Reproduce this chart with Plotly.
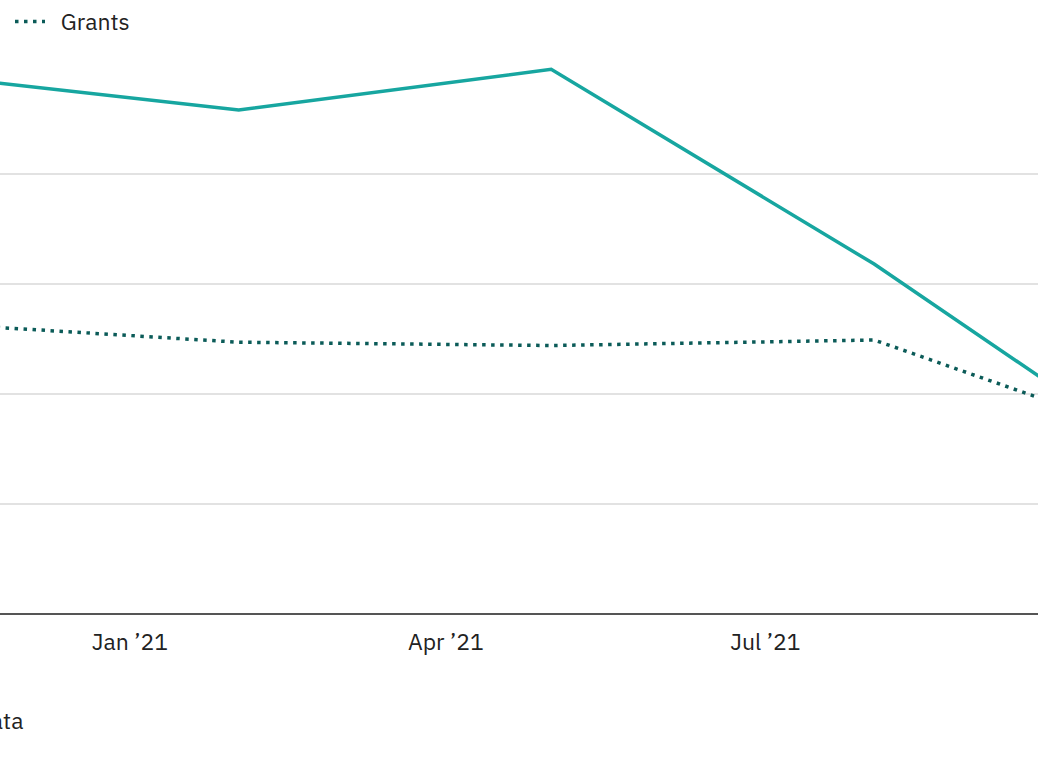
import plotly.graph_objects as go

dates = ["2020-11-01", "2021-02-01", "2021-05-01", "2021-08-01", "2021-11-01"]
total_values = [49.1, 45.8, 49.5, 31.8, 11.8]
grants_values = [26.5, 24.7, 24.4, 24.9, 14.6]
tick_dates = ["2021-01-01", "2021-04-01", "2021-07-01"]
tick_labels = ["Jan \u201921", "Apr \u201921", "Jul \u201921"]
grid_values = [0, 10, 20, 30, 40]

FONT = "IBM Plex Sans, Roboto, Noto Sans, sans-serif"

fig = go.Figure()
fig.add_trace(go.Scatter(
    x=dates, y=total_values, mode="lines", name="Total",
    line=dict(color="#17a6a0", width=3.5), showlegend=False,
))
fig.add_trace(go.Scatter(
    x=dates, y=grants_values, mode="lines", name="\u00a0\u00a0Grants",
    line=dict(color="#0b5b58", width=3.5, dash="3.5px,5.5px"),
))

fig.update_layout(
    width=1038, height=778,
    margin=dict(l=0, r=0, t=0, b=164),
    paper_bgcolor="white", plot_bgcolor="white",
    font=dict(family=FONT, size=23, color="#222222"),
    legend=dict(x=10 / 1038, y=1.0, xanchor="left", yanchor="top",
                orientation="h", bgcolor="rgba(0,0,0,0)",
                font=dict(size=23, color="#222222")),
    xaxis=dict(
        type="date", range=["2020-11-25", "2021-09-16 16:00"],
        tickvals=tick_dates, ticktext=tick_labels,
        showgrid=False, zeroline=False, ticks="",
        showline=False, ticklabelstandoff=12,
        tickfont=dict(size=23, color="#222222"),
    ),
    yaxis=dict(
        range=[0, 55.8], tickvals=grid_values, showticklabels=False,
        showgrid=True, gridcolor="#e2e2e2", gridwidth=1.5,
        zeroline=True, zerolinecolor="#555555", zerolinewidth=2,
        showline=False, ticks="",
    ),
    annotations=[dict(
        text="Source: Company data", xref="paper", yref="paper",
        x=25 / 1038, y=(614 - 720) / 614, xanchor="right", yanchor="middle",
        showarrow=False, font=dict(size=23, color="#222222"),
    )],
)

fig.write_html("out.html", config={"displayModeBar": False},
               post_script="document.body.style.margin='0';")
